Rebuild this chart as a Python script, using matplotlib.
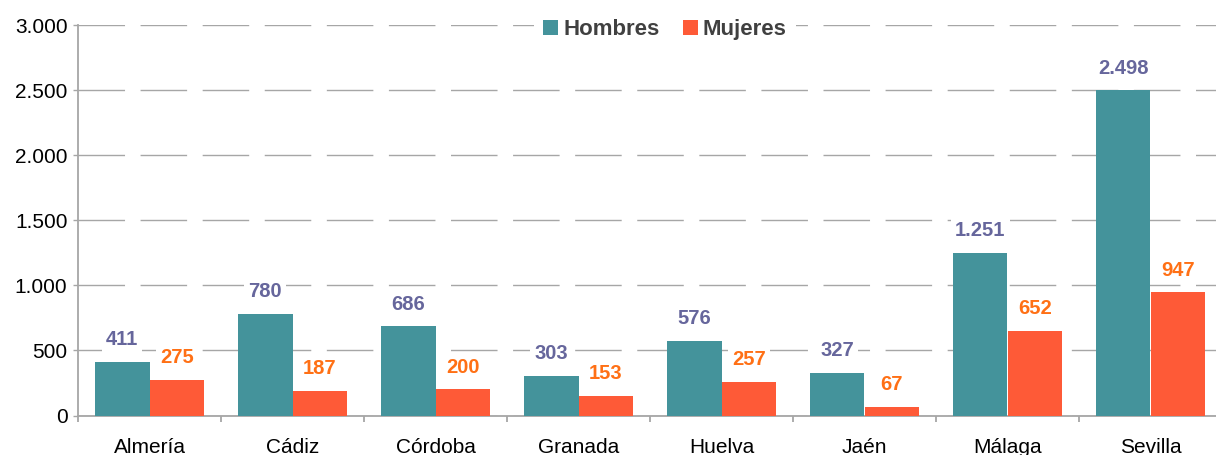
import numpy as np
import matplotlib
matplotlib.use("Agg")
import matplotlib.pyplot as plt
from matplotlib.ticker import FuncFormatter, FixedLocator

# Data
provincias = ["Almería", "Cádiz", "Córdoba", "Granada", "Huelva", "Jaén", "Málaga", "Sevilla"]
hombres = [411, 780, 686, 303, 576, 327, 1251, 2498]
mujeres = [275, 187, 200, 153, 257, 67, 652, 947]
series_names = ["Hombres", "Mujeres"]

# Colours
c_hombres = "#44939b"
c_mujeres = "#fe5a37"
c_lab_h = "#66669c"
c_lab_m = "#ff7015"
c_grid = "#a6a6a6"

plt.rcParams.update({
    'font.family': ['Liberation Sans', 'DejaVu Sans'],
    'font.size': 15,
})


def miles(v, pos=None):
    # Spanish thousands separator
    return f"{int(v):,}".replace(",", ".")


fig = plt.figure(figsize=(12.16, 4.55), dpi=100)
ax = fig.add_axes([78 / 1216, 39.5 / 455, 1144 / 1216, 390.5 / 455])

x = np.arange(len(provincias))
w = 0.38
b1 = ax.bar(x - w / 2, hombres, w, color=c_hombres, label=series_names[0], zorder=3)
b2 = ax.bar(x + w / 2, mujeres, w, color=c_mujeres, label=series_names[1], zorder=3)

# Value labels above bars (white box hides the grid behind)
for rects, vals, col in ((b1, hombres, c_lab_h), (b2, mujeres, c_lab_m)):
    for r, v in zip(rects, vals):
        ax.annotate(miles(v), (r.get_x() + r.get_width() / 2, v),
                    xytext=(0, 12), textcoords="offset points",
                    ha="center", va="baseline", fontsize=14.5,
                    fontweight="bold", color=col, zorder=4,
                    bbox=dict(boxstyle="square,pad=0.2", fc="white", ec="none"))

ax.set_xlim(-0.5, len(provincias) - 0.5)
ax.set_ylim(0, 3000)
ax.set_yticks(np.arange(0, 3001, 500))
ax.yaxis.set_major_formatter(FuncFormatter(miles))

ax.set_xticks(x)
ax.set_xticklabels(provincias)
ax.xaxis.set_minor_locator(FixedLocator(np.arange(-0.5, len(provincias), 1.0)))
ax.tick_params(axis="x", which="major", length=0, pad=16.5)
ax.tick_params(axis="x", which="minor", length=6 * 0.72, color=c_grid, width=1.3)
ax.tick_params(axis="y", length=5 * 0.72, color=c_grid, width=1.0, pad=4)

ax.grid(axis="y", color=c_grid, linewidth=1.0, linestyle=(0, (33.5, 11.2)), zorder=0)
ax.set_axisbelow(True)

for s in ("top", "right"):
    ax.spines[s].set_visible(False)
for s in ("left", "bottom"):
    ax.spines[s].set_color(c_grid)
    ax.spines[s].set_linewidth(1.3)

leg = fig.legend(loc="center", bbox_to_anchor=(665 / 1216, 1 - 29.5 / 455),
                 ncol=2, frameon=True, fancybox=False, framealpha=1,
                 edgecolor="none", facecolor="white",
                 handlelength=0.67, handleheight=0.67, handletextpad=0.23,
                 columnspacing=1.05, borderpad=0.4,
                 prop={'size': 16, 'weight': 'bold'})
for t in leg.get_texts():
    t.set_color("#404040")

fig.savefig("out.png", dpi=100)
